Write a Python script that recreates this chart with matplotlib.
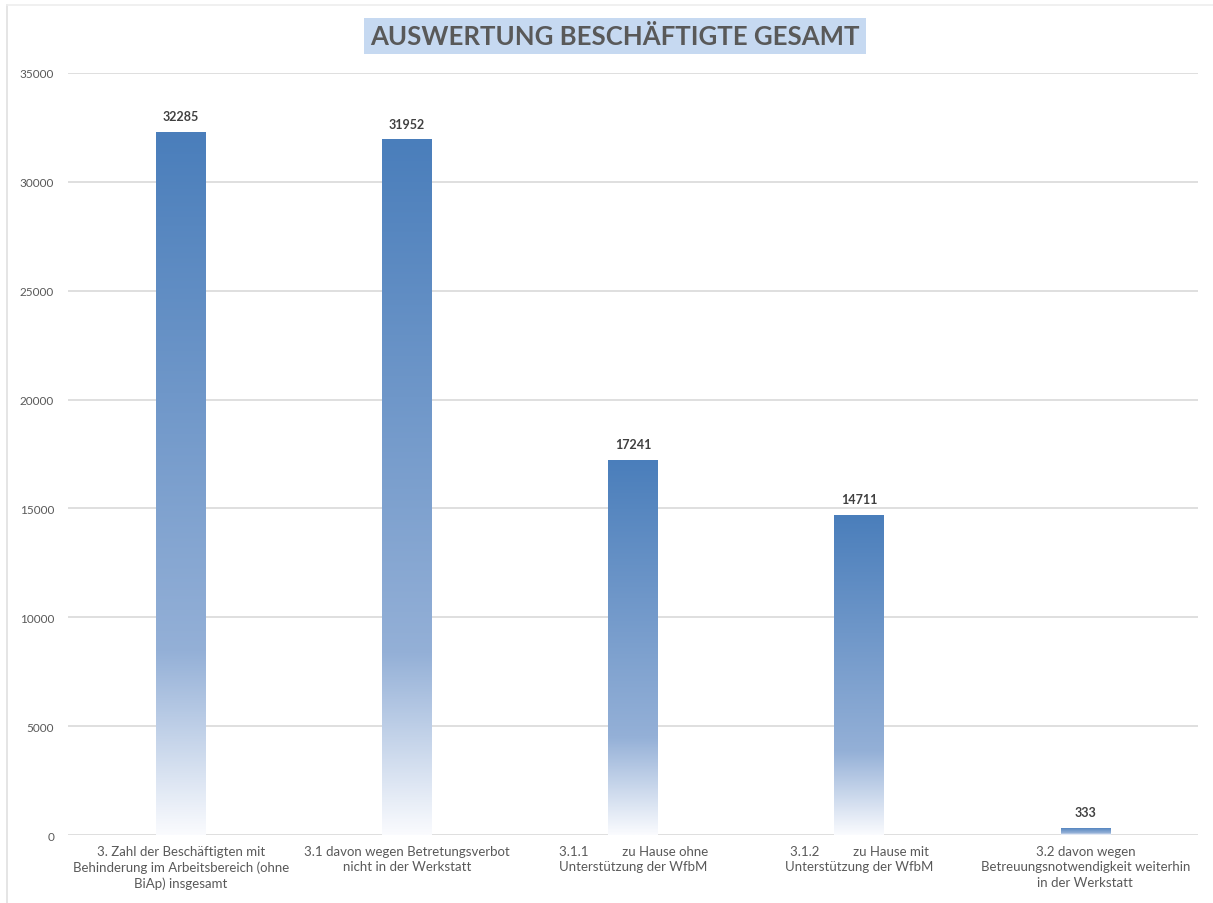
import numpy as np
import matplotlib.pyplot as plt
from matplotlib.colors import LinearSegmentedColormap
from matplotlib.lines import Line2D

# Daten
categories = ["3. Zahl der Beschäftigten mit\nBehinderung im Arbeitsbereich (ohne\nBiAp) insgesamt",
              "3.1 davon wegen Betretungsverbot\nnicht in der Werkstatt",
              "3.1.1          zu Hause ohne\nUnterstützung der WfbM",
              "3.1.2          zu Hause mit\nUnterstützung der WfbM",
              "3.2 davon wegen\nBetreuungsnotwendigkeit weiterhin\nin der Werkstatt"]
values = [32285, 31952, 17241, 14711, 333]
yticks = [0, 5000, 10000, 15000, 20000, 25000, 30000, 35000]

plt.rcParams['font.family'] = ['Lato', 'DejaVu Sans']

fig = plt.figure(figsize=(12.13, 9.04), dpi=100)
ax = fig.add_axes([0.056, 0.0752, 0.932, 0.8430])

# gradient: white at bottom -> dark blue at top
cmap = LinearSegmentedColormap.from_list('grad', [(0, '#FAFBFE'), (0.26, '#94B0D7'), (1, '#4A7EBB')])
grad = np.linspace(1, 0, 256).reshape(-1, 1)

x = np.arange(len(values))
width = 0.22
bars = ax.bar(x, values, width, color='none', zorder=2)
for b in bars:
    x0 = b.get_x()
    h = b.get_height()
    im = ax.imshow(grad, cmap=cmap, vmin=0, vmax=1, aspect='auto',
                   extent=[x0, x0 + width, 0, h], zorder=2)
    im.set_clip_path(b)

for xi, v in zip(x, values):
    ax.annotate(str(v), (xi, v), xytext=(0, 7), textcoords='offset points',
                ha='center', va='bottom', fontsize=9, fontweight='bold', color='#404040')

ax.set_xlim(-0.5, len(values) - 0.5)
ax.set_ylim(0, 35000)
ax.set_yticks(yticks)
ax.set_xticks(x)
ax.set_xticklabels(categories, fontsize=9.5, color='#595959', linespacing=1.35)
ax.tick_params(axis='y', length=0, pad=10, labelsize=8.5, labelcolor='#595959')
ax.tick_params(axis='x', length=0, pad=7)
for s in ax.spines.values():
    s.set_visible(False)
ax.yaxis.grid(True, color='#D9D9D9', linewidth=1.2)
ax.set_axisbelow(True)

fig.text(0.507, 0.959, "AUSWERTUNG BESCHÄFTIGTE GESAMT", ha='center', va='center',
         fontsize=18.5, fontweight='bold', color='#595959',
         bbox=dict(boxstyle='square,pad=0.25', facecolor='#C6D9F1', edgecolor='none'))

# Rahmenlinien
fig.add_artist(Line2D([0.006, 0.006], [0, 0.993], color='#E0E0E0', linewidth=1.2))
fig.add_artist(Line2D([0.006, 1], [0.993, 0.993], color='#EEEEEE', linewidth=1.2))

fig.savefig('out.png', dpi=100)
